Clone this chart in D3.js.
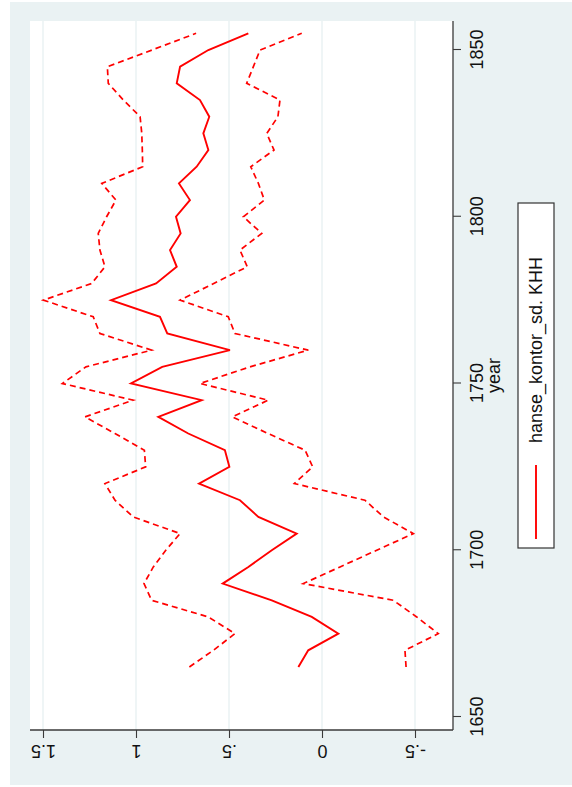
<html>
<head>
<style>
    body { margin:0; background:white; }
    text { font-family: Arial, "Liberation Sans", sans-serif; }
</style>
</head>
<body>
<svg id="plot"></svg>
<script src="https://d3js.org/d3.v7.min.js"></script>
<script>

var years = [1665,1670,1675,1680,1685,1690,1695,1700,1705,1710,
             1715,1720,1725,1730,1735,1740,1745,1750,1755,1760,
             1765,1770,1775,1780,1785,1790,1795,1800,1805,1810,
             1815,1820,1825,1830,1835,1840,1845,1850,1855];

var kontor = [0.127,0.074,-0.088,0.055,0.270,0.534,0.396,0.270,0.136,0.342,
              0.441,0.661,0.498,0.522,0.719,0.880,0.647,1.027,0.859,0.495,
              0.832,0.871,1.134,0.892,0.781,0.817,0.760,0.785,0.710,0.769,
              0.674,0.611,0.638,0.606,0.656,0.781,0.763,0.611,0.396];

var upper = [0.713,0.584,0.468,0.611,0.916,0.957,0.907,0.840,0.763,1.015,
             1.113,1.167,0.948,0.955,1.113,1.274,1.015,1.396,1.269,0.916,
             1.194,1.230,1.498,1.238,1.167,1.194,1.203,1.158,1.108,1.184,
             0.964,0.966,0.969,0.978,1.068,1.149,1.154,0.914,0.677];

var lower = [-0.452,-0.446,-0.625,-0.509,-0.383,0.101,-0.097,-0.294,-0.491,-0.330,
             -0.231,0.149,0.050,0.091,0.290,0.482,0.289,0.656,0.387,0.074,
             0.468,0.504,0.763,0.582,0.402,0.441,0.324,0.423,0.310,0.342,
             0.383,0.258,0.297,0.237,0.226,0.405,0.369,0.333,0.109];

var yearTicks = [1650,1700,1750,1800,1850];
var valueTicks = [-0.5,0,0.5,1,1.5];
var valueLabels = ["-.5","0",".5","1","1.5"];
var legendLabel = "hanse_kontor_sd. KHH";
var xTitle = "year";

var bg = "#EAF2F3";
var red = "#FF0000";

var initGraph = function(target)
{
    // page is 572 x 787, the stata graph is drawn 787 x 572 and turned
    var page = {width:572, height:787};
    var plot = {left:57, right:766, top:30, bottom:453};

    var svg = d3.select(target)
        .attr("width",page.width)
        .attr("height",page.height);

    var g = svg.append("g")
        .attr("transform","translate(0,"+page.height+") rotate(-90)");

    //graph region
    g.append("rect")
        .attr("x",2).attr("y",10)
        .attr("width",783).attr("height",562)
        .attr("fill",bg);

    //plot region
    g.append("rect")
        .attr("x",plot.left).attr("y",plot.top)
        .attr("width",plot.right-plot.left)
        .attr("height",plot.bottom-plot.top)
        .attr("fill","white");

    var xScale = d3.scaleLinear()
        .domain([1650,1850])
        .range([70,737]);

    var yScale = d3.scaleLinear()
        .domain([-0.5,1.5])
        .range([415,43]);

    //grid lines
    g.append("g")
        .selectAll("line")
        .data(valueTicks)
        .enter()
        .append("line")
        .attr("x1",plot.left)
        .attr("x2",plot.right)
        .attr("y1",function(d){return yScale(d);})
        .attr("y2",function(d){return yScale(d);})
        .attr("stroke",bg)
        .attr("stroke-width",1.5);

    var line = d3.line()
        .x(function(d,i){return xScale(years[i]);})
        .y(function(d){return yScale(d);});

    g.append("path")
        .datum(upper)
        .attr("d",line)
        .attr("fill","none")
        .attr("stroke",red)
        .attr("stroke-width",1.7)
        .attr("stroke-dasharray","6,4");

    g.append("path")
        .datum(lower)
        .attr("d",line)
        .attr("fill","none")
        .attr("stroke",red)
        .attr("stroke-width",1.7)
        .attr("stroke-dasharray","6,4");

    g.append("path")
        .datum(kontor)
        .attr("d",line)
        .attr("fill","none")
        .attr("stroke",red)
        .attr("stroke-width",1.9);

    initAxes(g,plot,xScale,yScale);
    createLegend(g,plot);
}

var initAxes = function(g,plot,xScale,yScale)
{
    var xAxis = d3.axisBottom(xScale)
        .tickValues(yearTicks)
        .tickFormat(d3.format("d"))
        .tickSizeInner(8)
        .tickSizeOuter(0)
        .tickPadding(9);

    var yAxis = d3.axisLeft(yScale)
        .tickValues(valueTicks)
        .tickFormat(function(d,i){return valueLabels[i];})
        .tickSizeInner(8)
        .tickSizeOuter(0);

    var xa = g.append("g")
        .attr("transform","translate(0,"+plot.bottom+")")
        .call(xAxis);
    xa.select(".domain").attr("d","M"+plot.left+",0H"+plot.right);

    var ya = g.append("g")
        .attr("transform","translate("+plot.left+",0)")
        .call(yAxis);
    ya.select(".domain").attr("d","M0,"+plot.top+"V"+plot.bottom);

    g.selectAll(".domain").attr("stroke","#3a3a3a").attr("stroke-width",1.3);
    g.selectAll(".tick line").attr("stroke","#3a3a3a").attr("stroke-width",1.1);
    g.selectAll(".tick text")
        .attr("font-size",18)
        .attr("font-family","Arial, 'Liberation Sans', sans-serif")
        .attr("fill","#111");

    //stata writes y labels vertically
    ya.selectAll(".tick text")
        .attr("x",null)
        .attr("dy",null)
        .attr("text-anchor","middle")
        .attr("transform","translate(-15,0) rotate(-90)");

    g.append("text")
        .text(xTitle)
        .attr("x",(plot.left+plot.right)/2)
        .attr("y",500)
        .attr("text-anchor","middle")
        .attr("font-size",18)
        .attr("fill","#111");
}

var createLegend = function(g,plot)
{
    var leg = g.append("g");

    leg.append("rect")
        .attr("x",239).attr("y",518)
        .attr("width",345).attr("height",36)
        .attr("fill","white")
        .attr("stroke","#333")
        .attr("stroke-width",1.2);

    leg.append("line")
        .attr("x1",248).attr("x2",322)
        .attr("y1",536).attr("y2",536)
        .attr("stroke",red)
        .attr("stroke-width",1.9);

    leg.append("text")
        .text(legendLabel)
        .attr("x",344)
        .attr("y",542)
        .attr("font-size",18)
        .attr("fill","#111");
}

initGraph("#plot");

</script>
</body>
</html>
